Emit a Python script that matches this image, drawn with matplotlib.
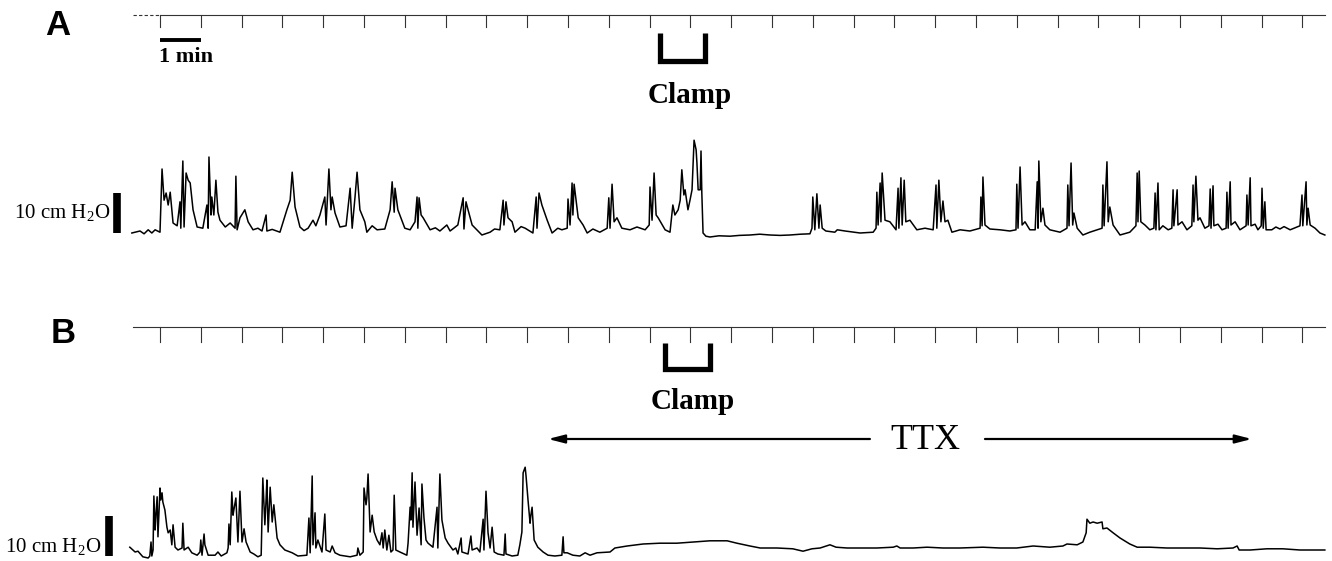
import numpy as np
import matplotlib.pyplot as plt

plt.rcParams['mathtext.fontset'] = 'custom'
plt.rcParams['mathtext.rm'] = 'Liberation Serif'

# -------------------------
# Data: time (min) and pressure (cm H2O above baseline)
# -------------------------
trace_a = [
    (-0.69, 0.0), (-0.49, 0.5), (-0.39, -0.2), (-0.29, 0.8), (-0.20, 0.0), (-0.12, 0.8), (0.00, 0.2),
    (0.05, 16.0), (0.10, 8.2), (0.15, 10.0), (0.20, 7.0), (0.25, 10.2), (0.32, 2.5), (0.42, 1.8),
    (0.49, 7.8), (0.51, 1.2), (0.56, 18.0), (0.59, 1.5), (0.64, 15.0), (0.69, 13.2), (0.74, 12.5),
    (0.81, 5.8), (0.91, 1.5), (1.05, 1.2), (1.15, 7.0), (1.18, 1.2), (1.20, 19.0), (1.25, 4.5),
    (1.27, 9.0), (1.32, 4.5), (1.37, 13.2), (1.42, 5.2), (1.47, 3.2), (1.60, 1.5), (1.72, 2.5), (1.84, 1.2),
    (1.86, 14.2), (1.89, 0.8), (1.96, 3.8), (2.08, 5.8), (2.16, 2.8), (2.28, 0.8), (2.40, 1.2), (2.50, 0.5),
    (2.60, 4.5), (2.62, 0.5), (2.75, 0.9), (2.94, 0.2), (3.11, 5.8), (3.19, 8.2), (3.24, 15.2), (3.31, 6.5),
    (3.43, 1.5), (3.53, 0.6), (3.63, 1.2), (3.75, 3.2), (3.82, 1.8), (3.92, 4.5), (4.04, 9.0), (4.07, 2.0),
    (4.14, 16.0), (4.19, 5.8), (4.22, 9.0), (4.29, 5.0), (4.41, 1.5), (4.56, 1.8), (4.66, 11.2),
    (4.71, 1.2), (4.78, 9.0), (4.83, 15.2), (4.90, 5.8), (5.02, 2.8), (5.07, 0.2), (5.20, 1.8),
    (5.32, 0.8), (5.51, 1.0), (5.64, 5.8), (5.69, 12.8), (5.74, 5.2), (5.76, 11.2), (5.83, 5.8),
    (6.00, 1.2), (6.13, 0.8), (6.25, 2.8), (6.30, 9.0), (6.32, 1.2), (6.35, 8.8), (6.40, 4.5),
    (6.45, 3.8), (6.62, 0.8), (6.75, 1.3), (6.86, 0.5), (7.03, 2.0), (7.11, 0.5), (7.30, 2.0), (7.43, 8.8),
    (7.45, 1.0), (7.50, 7.8), (7.55, 5.8), (7.65, 2.0), (7.89, -0.5), (8.09, 0.2), (8.20, 1.0), (8.33, 0.8),
    (8.41, 8.2), (8.43, 2.0), (8.48, 7.8), (8.53, 3.8), (8.63, 2.8), (8.70, 0.2), (8.85, 1.6), (8.95, 1.2),
    (9.14, 0.0), (9.22, 9.0), (9.24, 1.2), (9.29, 10.0), (9.36, 7.0), (9.49, 3.2), (9.61, 0.0),
    (9.75, 1.2), (9.85, 0.8), (9.98, 1.2), (10.00, 8.5), (10.05, 2.0), (10.10, 12.5), (10.12, 4.5),
    (10.15, 12.2), (10.25, 3.8), (10.37, 2.0), (10.47, 0.0), (10.61, 1.0), (10.78, 0.2), (10.96, 1.2),
    (11.00, 8.8), (11.03, 1.2), (11.08, 12.2), (11.13, 2.8), (11.20, 3.8), (11.32, 1.2), (11.52, 0.8),
    (11.69, 1.5), (11.89, 0.8), (11.99, 2.0), (12.01, 11.5), (12.06, 3.2), (12.11, 15.0), (12.16, 4.5),
    (12.21, 3.8), (12.38, 0.8), (12.50, 0.2), (12.57, 7.0), (12.62, 4.5), (12.70, 5.8), (12.75, 8.2),
    (12.79, 15.8), (12.84, 9.5), (12.87, 10.8), (12.94, 5.8), (12.99, 8.2), (13.04, 10.8), (13.09, 23.2),
    (13.14, 20.8), (13.16, 17.5), (13.19, 10.8), (13.24, 10.8), (13.26, 20.5), (13.28, 10.0), (13.31, 0.0),
    (13.38, -0.8), (13.48, -1.0), (13.70, -0.7), (13.97, -0.8), (14.20, -0.6), (14.46, -0.5), (14.70, -0.3),
    (14.95, -0.5), (15.20, -0.6), (15.44, -0.5), (15.70, -0.3), (15.93, -0.2),
    (15.98, 1.2), (16.00, 9.0), (16.05, 0.8), (16.10, 9.8), (16.15, 1.2), (16.18, 7.0), (16.23, 1.2),
    (16.32, 0.5), (16.54, 0.2), (16.60, 0.8), (16.79, 0.5), (17.16, 0.0), (17.48, 0.2), (17.55, 1.2), (17.57, 10.2),
    (17.60, 2.0), (17.65, 12.5), (17.67, 2.8), (17.70, 15.0), (17.77, 3.2), (17.89, 2.8), (18.04, 0.8),
    (18.09, 11.2), (18.11, 1.2), (18.16, 13.8), (18.19, 2.0), (18.24, 13.2), (18.28, 2.8), (18.38, 3.2),
    (18.55, 0.8), (18.75, 1.2), (18.95, 0.8), (19.02, 12.0), (19.04, 1.2), (19.09, 13.2), (19.14, 2.8),
    (19.19, 8.0), (19.24, 2.8), (19.31, 3.2), (19.41, 0.2), (19.61, 0.8), (19.85, 0.5), (20.10, 1.2),
    (20.12, 9.0), (20.15, 1.8), (20.17, 14.0), (20.22, 2.0), (20.34, 1.0), (20.59, 0.8), (20.83, 0.5),
    (20.98, 0.8), (21.00, 12.2), (21.03, 1.2), (21.08, 16.5), (21.13, 2.0), (21.20, 2.8), (21.32, 0.8),
    (21.45, 0.8), (21.50, 12.8), (21.52, 1.2), (21.54, 18.0), (21.59, 2.8), (21.64, 6.2), (21.69, 2.0),
    (21.81, 0.8), (22.06, 0.2), (22.23, 1.2), (22.25, 12.0), (22.28, 1.8), (22.33, 17.5), (22.37, 2.0),
    (22.40, 5.0), (22.48, 1.2), (22.62, -0.5), (22.79, 0.2), (23.09, 1.2), (23.11, 12.0), (23.14, 1.8),
    (23.21, 17.8), (23.24, 2.8), (23.28, 6.5), (23.36, 2.0), (23.53, -0.5), (23.77, 0.2), (23.92, 1.8),
    (23.95, 15.0), (23.97, 2.8), (24.00, 15.5), (24.04, 2.8), (24.14, 2.0), (24.26, 0.8), (24.36, 1.2),
    (24.39, 10.0), (24.41, 0.8), (24.46, 12.5), (24.49, 0.8), (24.58, 1.8), (24.71, 0.8), (24.80, 1.2),
    (24.83, 10.8), (24.85, 1.8), (24.93, 10.8), (24.95, 2.0), (25.05, 2.8), (25.17, 0.8), (25.29, 1.8),
    (25.32, 12.0), (25.34, 2.8), (25.39, 14.2), (25.44, 3.2), (25.49, 3.8), (25.61, 1.2), (25.71, 1.8),
    (25.74, 11.0), (25.76, 1.2), (25.81, 11.8), (25.83, 1.8), (25.93, 2.2), (26.03, 0.8), (26.13, 1.2),
    (26.15, 10.2), (26.18, 1.2), (26.23, 12.8), (26.25, 2.0), (26.35, 2.8), (26.47, 0.8), (26.62, 1.8),
    (26.64, 9.5), (26.67, 2.0), (26.72, 13.8), (26.74, 1.8), (26.84, 2.2), (26.91, 0.8), (26.99, 1.8),
    (27.01, 11.2), (27.04, 1.2), (27.08, 7.8), (27.11, 0.8), (27.25, 0.8), (27.35, 1.5), (27.45, 1.0),
    (27.55, 1.6), (27.70, 0.8), (27.94, 1.8), (27.99, 9.5), (28.01, 1.8), (28.09, 12.8), (28.11, 2.0),
    (28.14, 6.2), (28.19, 2.0), (28.31, 1.2), (28.43, 0.0), (28.55, -0.5),
]

trace_b = [
    (-0.74, 2.2), (-0.61, 1.0), (-0.54, 1.2), (-0.42, -0.2), (-0.29, -0.5), (-0.25, 0.0), (-0.22, 3.5),
    (-0.20, 0.0), (-0.17, 1.5), (-0.15, 15.0), (-0.12, 6.5), (-0.10, 10.2), (-0.07, 14.8), (-0.05, 4.8),
    (0.00, 17.0), (0.02, 14.0), (0.05, 15.8), (0.07, 13.5), (0.12, 11.5), (0.17, 7.2), (0.20, 5.8),
    (0.25, 6.5), (0.29, 2.8), (0.32, 7.8), (0.37, 2.2), (0.44, 1.5), (0.54, 2.0), (0.56, 8.2),
    (0.59, 1.5), (0.69, 2.2), (0.78, 0.8), (0.91, 0.2), (0.98, 1.0), (1.00, 4.0), (1.03, 0.2),
    (1.08, 5.5), (1.10, 2.8), (1.18, 0.2), (1.35, 0.2), (1.42, 1.0), (1.50, 0.0), (1.64, 0.8),
    (1.67, 2.0), (1.69, 8.0), (1.72, 2.8), (1.76, 16.0), (1.79, 10.2), (1.81, 11.5), (1.86, 14.5),
    (1.91, 3.5), (1.96, 16.2), (2.01, 3.5), (2.06, 6.8), (2.11, 3.5), (2.21, 1.0), (2.30, 0.5),
    (2.40, -0.2), (2.48, 0.2), (2.52, 19.5), (2.57, 7.8), (2.60, 14.0), (2.62, 19.0), (2.65, 6.0),
    (2.70, 17.2), (2.75, 8.5), (2.79, 12.8), (2.87, 4.5), (2.94, 2.8), (3.06, 1.5), (3.24, 0.8),
    (3.38, 0.0), (3.60, 0.2), (3.65, 9.5), (3.68, 0.8), (3.73, 20.0), (3.75, 2.8), (3.80, 10.8),
    (3.82, 2.0), (3.87, 4.0), (3.97, 1.0), (4.04, 10.5), (4.07, 1.5), (4.17, 1.0), (4.22, 2.5),
    (4.29, 0.8), (4.41, 0.2), (4.66, -0.2), (4.83, 0.2), (4.85, 2.0), (4.90, 0.2), (4.98, 1.0),
    (5.00, 17.0), (5.05, 12.8), (5.07, 14.5), (5.10, 20.5), (5.15, 6.0), (5.20, 10.2), (5.25, 6.0),
    (5.32, 4.0), (5.39, 2.8), (5.44, 5.8), (5.47, 2.0), (5.51, 6.5), (5.56, 1.5), (5.61, 5.2),
    (5.66, 1.0), (5.71, 1.5), (5.74, 15.2), (5.78, 1.5), (5.88, 1.0), (6.05, 0.2), (6.08, 3.2),
    (6.13, 12.2), (6.15, 9.0), (6.18, 20.8), (6.20, 7.2), (6.25, 18.5), (6.30, 5.2), (6.35, 12.0),
    (6.40, 2.8), (6.42, 18.0), (6.47, 9.5), (6.52, 4.0), (6.57, 3.2), (6.69, 2.2), (6.79, 12.2),
    (6.81, 2.0), (6.86, 20.5), (6.91, 9.0), (6.99, 4.5), (7.06, 3.2), (7.18, 1.5), (7.25, 2.0),
    (7.30, 0.5), (7.38, 4.5), (7.40, 1.0), (7.55, 0.5), (7.62, 5.0), (7.65, 1.5), (7.77, 2.0),
    (7.84, 1.0), (7.92, 9.2), (7.94, 1.5), (7.99, 16.2), (8.04, 5.8), (8.09, 2.0), (8.14, 7.2),
    (8.19, 1.0), (8.28, 0.5), (8.43, 0.2), (8.46, 5.5), (8.48, 0.5), (8.63, 0.0), (8.77, 0.2),
    (8.82, 2.8), (8.87, 6.0), (8.90, 20.8), (8.95, 22.2), (8.97, 20.2), (9.02, 14.0), (9.07, 8.2),
    (9.09, 10.2), (9.12, 12.2), (9.17, 4.0), (9.26, 2.2), (9.39, 1.0), (9.51, 0.2), (9.68, 0.0),
    (9.85, 0.2), (9.88, 4.8), (9.90, 0.8), (9.98, 0.8), (10.12, 0.2), (10.29, 0.0), (10.42, 0.8),
    (10.54, 0.2), (10.71, 0.8), (11.03, 1.0), (11.15, 2.0), (11.45, 2.5), (11.84, 3.0), (12.25, 3.2),
    (12.67, 3.2), (13.06, 3.5), (13.48, 3.8), (13.90, 3.8), (14.14, 3.2), (14.46, 2.5), (14.71, 2.0),
    (15.12, 2.0), (15.51, 1.8), (15.76, 1.2), (15.98, 1.8), (16.18, 2.0), (16.42, 2.8), (16.57, 2.2),
    (16.84, 2.0), (17.16, 2.0), (17.57, 2.0), (17.97, 2.2), (18.06, 2.5), (18.14, 2.0), (18.46, 2.0),
    (18.80, 2.2), (19.19, 2.0), (19.61, 2.0), (20.17, 2.2), (20.59, 2.0), (21.00, 2.0), (21.40, 2.5),
    (21.81, 2.2), (22.13, 2.5), (22.23, 3.0), (22.48, 2.8), (22.62, 3.5), (22.70, 5.8), (22.72, 9.2),
    (22.79, 8.2), (22.87, 8.5), (22.97, 8.2), (23.09, 8.5), (23.11, 6.8), (23.21, 7.0), (23.36, 5.8),
    (23.53, 4.5), (23.77, 3.0), (23.95, 2.2), (24.26, 2.2), (24.68, 2.0), (25.07, 2.0), (25.49, 2.0),
    (25.91, 1.8), (26.30, 2.0), (26.40, 2.5), (26.45, 1.5), (26.72, 1.5), (27.13, 1.8), (27.52, 1.8),
    (27.94, 1.5), (28.55, 1.5),
]

minute_marks = list(range(0, 29))       # event marker ticks, 1 per min
clamp_a = (12.25, 13.36)                # clamp period (min)
clamp_b = (12.38, 13.48)
ttx_period = (9.51, 26.76)              # TTX application (min)
timebar_span = (-0.66, 28.55)
scale_time = 1                          # min
scale_press = 10                        # cm H2O

# -------------------------
# Figure layout (pixel based: 40.8 px per min, 4 px per cm H2O)
# -------------------------
W, H = 1332, 561
px_min, px_cm = 40.8, 4.0
x0 = 160
fig = plt.figure(figsize=(W / 100, H / 100), dpi=100)

def add_panel(top, bottom, base):
    ax = fig.add_axes([0, 1 - bottom / H, 1, (bottom - top) / H])
    ax.set_xlim(-x0 / px_min, (W - x0) / px_min)
    ax.set_ylim((base - bottom) / px_cm, (base - top) / px_cm)
    ax.axis("off")
    return ax

axA = add_panel(0, 280, 233)
axB = add_panel(280, H, 556)

def yA(py):
    return (233 - py) / px_cm

def yB(py):
    return (556 - py) / px_cm

# pressure traces
tA, pA = np.array(trace_a).T
tB, pB = np.array(trace_b).T
axA.plot(tA, pA, color="black", lw=1.1)
axB.plot(tB, pB, color="black", lw=1.1)

# event marker (time) lines
axA.plot([0, timebar_span[1]], [yA(15), yA(15)], color="#333333", lw=0.8)
axA.plot([timebar_span[0], 0], [yA(15), yA(15)], color="#333333", lw=0.8, ls=(0, (3, 2)))
axB.plot(list(timebar_span), [yB(327), yB(327)], color="#333333", lw=0.8)
for ax, ly, ty in [(axA, yA(15), yA(27)), (axB, yB(327), yB(342))]:
    for m in minute_marks:
        ax.plot([m, m], [ly, ty], color="#333333", lw=0.8)

# clamp brackets
for ax, (c0, c1), top, bot in [(axA, clamp_a, yA(33), yA(61)), (axB, clamp_b, yB(343), yB(369))]:
    ax.plot([c0, c0, c1, c1], [top, bot, bot, top], color="black", lw=3.8,
            solid_joinstyle="miter", solid_capstyle="butt")

# scale bars
axA.plot([0, scale_time], [yA(39.5), yA(39.5)], color="black", lw=2.8, solid_capstyle="butt")
axA.plot([-1.05, -1.05], [0, scale_press], color="black", lw=5.5, solid_capstyle="butt")
axB.plot([-1.26, -1.26], [0, scale_press], color="black", lw=5.5, solid_capstyle="butt")

# TTX arrows
arr = dict(arrowstyle="-|>,head_length=0.7,head_width=0.18", color="black", lw=1.6,
           mutation_scale=14, shrinkA=0, shrinkB=0)
axB.annotate("", xy=(ttx_period[0], yB(439)), xytext=(17.40, yB(439)), arrowprops=arr)
axB.annotate("", xy=(ttx_period[1], yB(439)), xytext=(20.22, yB(439)), arrowprops=arr)

# -------------------------
# Text overlay
# -------------------------
ov = fig.add_axes([0, 0, 1, 1])
ov.set_xlim(0, W)
ov.set_ylim(H, 0)
ov.axis("off")

sans_b = dict(family="Liberation Sans", fontweight="bold", fontsize=25)
ov.text(58, 25, "A", ha="center", va="center", **sans_b)
ov.text(63, 333, "B", ha="center", va="center", **sans_b)

serif_b = dict(family="Liberation Serif", fontweight="bold")
ov.text(159, 57, "1 min", ha="left", va="center", fontsize=16, **serif_b)
ov.text(690, 95, "Clamp", ha="center", va="center", fontsize=21, **serif_b)
ov.text(693, 401, "Clamp", ha="center", va="center", fontsize=21, **serif_b)

ov.text(110, 213, r"10 cm H$_2$O", ha="right", va="center", fontsize=15, family="Liberation Serif")
ov.text(101, 547, r"10 cm H$_2$O", ha="right", va="center", fontsize=15, family="Liberation Serif")
ov.text(925, 440, "TTX", ha="center", va="center", fontsize=26, family="Liberation Serif")

fig.savefig("out.png", dpi=100)
